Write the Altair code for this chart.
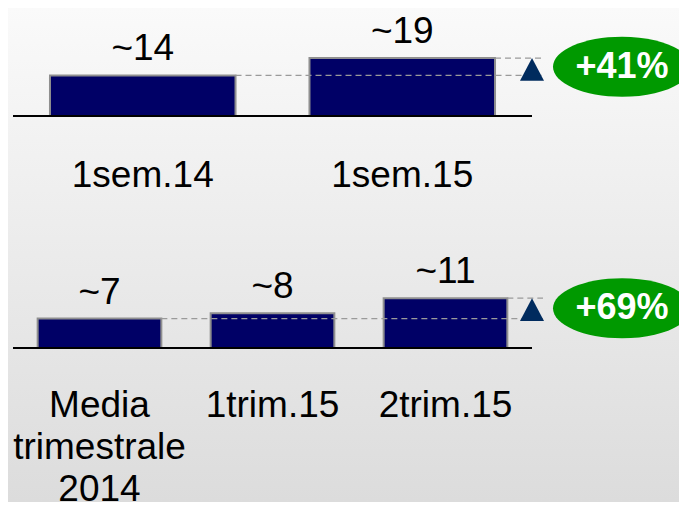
import altair as alt
import pandas as pd

# ---- data ----
top_categories = ["1sem.14", "1sem.15"]
top_values = [13.3, 19.0]
top_labels = ["~14", "~19"]
top_growth = "+41%"

bottom_categories = ["Media\ntrimestrale\n2014", "1trim.15", "2trim.15"]
bottom_values = [6.8, 8.0, 11.5]
bottom_labels = ["~7", "~8", "~11"]
bottom_growth = "+69%"

FONT = "Liberation Sans"
BAR = "#000066"
ELLIPSE = "M-1,0A1,0.435,0,1,0,1,0A1,0.435,0,1,0,-1,0Z"
TRIANGLE = "M0,0L1,1.9L-1,1.9Z"
W, H = 671, 494


def panel(cats, vals, labels, growth, y_domain, y_range, label_dy, line_h):
    n = len(cats)
    df = pd.DataFrame({
        "cat": cats,
        "value": vals,
        "label": labels,
        "idx": list(range(n)),
    })
    xs = alt.Scale(domain=cats, range=[5, 524], paddingInner=0.285, paddingOuter=0.1425)
    ys = alt.Scale(domain=y_domain, range=y_range, nice=False, zero=True)
    X = alt.X("cat:N", scale=xs, axis=None, sort=cats)
    Y = alt.Y("value:Q", scale=ys, axis=None)
    base = alt.Chart(df)

    bars = base.mark_bar(color=BAR, stroke="#8f8f8f", strokeWidth=2).encode(x=X, y=Y)

    dashes = base.transform_filter(f"datum.idx == 0 || datum.idx == {n - 1}").mark_rule(
        color="#9a9a9a", strokeWidth=1.2, strokeDash=[6, 4]
    ).encode(
        x=alt.X("cat:N", scale=xs, axis=None, sort=cats, bandPosition=1),
        x2=alt.value(535),
        y=Y,
    )

    baseline = base.transform_calculate(zero="0").mark_rule(color="black", strokeWidth=2).encode(
        y=alt.Y("zero:Q", scale=ys, axis=None), x=alt.value(5), x2=alt.value(524)
    )

    vlabels = base.mark_text(
        font=FONT, fontSize=37, dy=-15, baseline="alphabetic", color="black"
    ).encode(x=X, y=Y, text="label:N")

    clabels = base.transform_calculate(zero="0").mark_text(
        font=FONT, fontSize=37, baseline="alphabetic", dy=label_dy,
        lineBreak="\n", lineHeight=line_h, color="black"
    ).encode(x=X, y=alt.Y("zero:Q", scale=ys, axis=None), text="cat:N")

    tri = base.transform_filter(f"datum.idx == {n - 1}").mark_point(
        shape=TRIANGLE, size=576, filled=True, color="#002B5E", opacity=1
    ).encode(x=alt.value(524), y=Y)

    ann = pd.DataFrame({"growth": [growth], "lo": [vals[0]], "hi": [vals[-1]]})
    annb = alt.Chart(ann).transform_calculate(mid="(datum.lo + datum.hi) / 2")
    MID = alt.Y("mid:Q", scale=ys, axis=None)
    ell = annb.mark_point(
        shape=ELLIPSE, size=138 * 138, filled=True, color="#009900", opacity=1
    ).encode(x=alt.value(614), y=MID)
    gtxt = annb.mark_text(
        font=FONT, fontSize=36, fontWeight="bold", color="white", baseline="middle"
    ).encode(x=alt.value(614), y=MID, text="growth:N")

    return alt.layer(bars, dashes, baseline, vlabels, clabels, tri, ell, gtxt)


top = panel(top_categories, top_values, top_labels, top_growth,
            [0, 20], [108, 47], 71, 45)
bottom = panel(bottom_categories, bottom_values, bottom_labels, bottom_growth,
               [0, 12], [340, 288], 69, 42)

bg = alt.Chart(pd.DataFrame({"a": [0]})).mark_rect(
    fill=alt.Gradient(
        gradient="linear",
        stops=[alt.GradientStop(color="#fafafa", offset=0),
               alt.GradientStop(color="#dcdcdc", offset=1)],
        x1=0, x2=0, y1=0, y2=1,
    )
).encode(x=alt.value(0), x2=alt.value(W), y=alt.value(0), y2=alt.value(H))

chart = alt.layer(bg, top, bottom).resolve_scale(
    x="independent", y="independent"
).properties(
    width=W, height=H, padding=0,
    autosize=alt.AutoSizeParams(type="none"),
).configure_view(stroke=None)

chart.save("out.html", embed_options={"renderer": "svg", "actions": False})
